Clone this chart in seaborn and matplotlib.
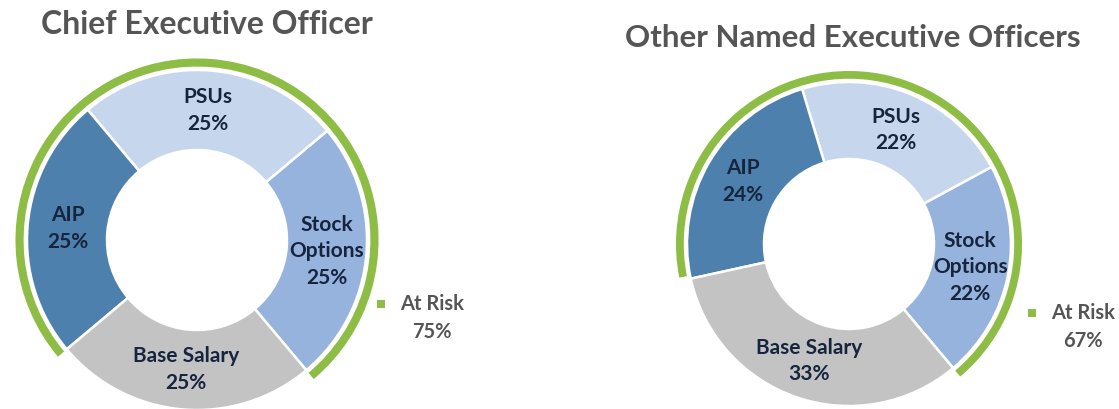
import numpy as np
import matplotlib
matplotlib.use("Agg")
import matplotlib.pyplot as plt
import seaborn as sns

# ---- data ----
categories = ["Stock Options", "PSUs", "AIP", "Base Salary"]
display_labels = ["Stock\nOptions", "PSUs", "AIP", "Base Salary"]
ceo_values = [25, 25, 25, 25]
neo_values = [22, 22, 24, 33]
ceo_at_risk = 75
neo_at_risk = 67
titles = ["Chief Executive Officer", "Other Named Executive Officers"]

# ---- style ----
sns.set_style("white")
plt.rcParams["font.family"] = ["Lato", "DejaVu Sans"]

palette = dict(zip(categories, sns.color_palette(["#95b3dd", "#c6d6ec", "#4d80ac", "#c3c3c3"])))
green = "#8dbd45"
label_color = "#17243e"
title_color = "#555555"

W, H = 1119, 409
fig = plt.figure(figsize=(W / 100, H / 100), dpi=100)
ax = fig.add_axes([0, 0, 1, 1])


def donut(cx, cy, R, r, values, at_risk, title, title_xy, legend_xy, title_size):
    cy = H - cy
    colors = [palette[c] for c in categories]
    wedges, _ = ax.pie(values, colors=colors, startangle=-50, counterclock=True,
                       radius=R, center=(cx, cy), frame=True,
                       wedgeprops=dict(width=R - r, edgecolor="white", linewidth=1.8))
    # at-risk ring
    ax.pie([at_risk, 100 - at_risk], colors=[green, "none"], startangle=-50,
           counterclock=True, radius=R * 1.068, center=(cx, cy), frame=True,
           wedgeprops=dict(width=R * 0.048, edgecolor="none", linewidth=0))
    rmid = (R + r) / 2
    for w, lab, v in zip(wedges, display_labels, values):
        th = np.deg2rad((w.theta1 + w.theta2) / 2)
        ax.text(cx + rmid * np.cos(th), cy + rmid * np.sin(th), f"{lab}\n{v}%",
                ha="center", va="center", fontsize=15, fontweight="bold",
                color=label_color, linespacing=1.4)
    ax.text(title_xy[0], H - title_xy[1], title, ha="center", va="center",
            fontsize=title_size, fontweight="bold", color=title_color)
    lx, ly = legend_xy
    ax.text(lx, H - ly, "At Risk", ha="center", va="center", fontsize=14.5,
            fontweight="bold", color=title_color)
    ax.text(lx, H - ly - 28, f"{at_risk}%", ha="center", va="center", fontsize=14.5,
            fontweight="bold", color=title_color)
    ax.scatter([lx - 51], [H - ly], marker="s", s=26, color=green, linewidths=0)


donut(197, 240, 170, 90, ceo_values, ceo_at_risk, titles[0], (207, 25), (432, 304), 23)
donut(849, 244, 162, 85, neo_values, neo_at_risk, titles[1], (853, 38), (1083, 313), 22.5)

ax.set_xlim(0, W)
ax.set_ylim(0, H)
ax.axis("off")
fig.savefig("out.png", dpi=100)
